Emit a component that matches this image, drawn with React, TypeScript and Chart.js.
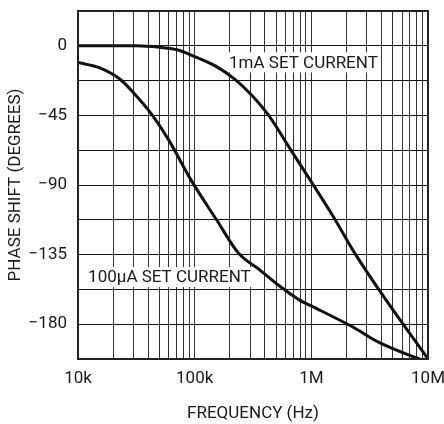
import React, { useEffect, useRef } from "react";
import { Chart, registerables } from "chart.js";

Chart.register(...registerables);

// ---- Data ----
const FREQ_1MA = [10000, 20000, 32000, 50000, 72000, 100000, 150000, 220000, 300000, 428000, 656000, 1000000, 1540000, 2290000, 3740000, 10000000];
const PHASE_1MA = [0, 0, 0, -1, -2.7, -7, -13, -21.5, -31, -44.7, -66.5, -88, -110.4, -132.6, -157, -202.5];

const FREQ_100UA = [10000, 15000, 22800, 30000, 42500, 60000, 93500, 154000, 237000, 363000, 538000, 800000, 1000000, 2290000, 3760000, 7460000, 8500000];
const PHASE_100UA = [-10.8, -14, -21.5, -30.5, -44, -61, -87, -112.5, -134, -145, -155.5, -164.6, -168.2, -182, -191.6, -201, -202.5];

// Grid / tick values
const X_GRID = [
  10000, 20000, 30000, 40000, 50000, 60000, 70000, 80000, 90000,
  100000, 200000, 300000, 400000, 500000, 600000, 700000, 800000, 900000,
  1000000, 2000000, 3000000, 4000000, 5000000, 6000000, 7000000, 8000000, 9000000,
  10000000,
];
const X_TICK_VALUES = [10000, 100000, 1000000, 10000000];
const X_TICK_LABELS = ["10k", "100k", "1M", "10M"];
const Y_GRID = [22.5, 0, -22.5, -45, -67.5, -90, -112.5, -135, -157.5, -180, -202.5];
const Y_TICK_VALUES = [0, -45, -90, -135, -180];
const Y_TICK_LABELS = ["0", "\u221245", "\u221290", "\u2212135", "\u2212180"];
const X_MIN = 10000;
const X_MAX = 10000000;
const Y_MIN = -202.5;
const Y_MAX = 22.5;

const CURVE_LABELS = [
  { text: "1mA SET CURRENT", f: 197000, phase: -10.7 },
  { text: "100\u00B5A SET CURRENT", f: 12200, phase: -149.5 },
];

const X_TITLE = "FREQUENCY (Hz)";
const Y_TITLE = "PHASE SHIFT (DEGREES)";

const FONT = "Roboto, 'Liberation Sans', sans-serif";
const FS = 17;

const labelPlugin = {
  id: "curveLabels",
  beforeDatasetsDraw(chart: any) {
    const { ctx, scales } = chart;
    const x = scales.x, y = scales.y;
    ctx.save();
    ctx.font = `${FS}px ${FONT}`;
    ctx.textBaseline = "middle";
    ctx.textAlign = "left";
    for (const l of CURVE_LABELS) {
      const px = x.getPixelForValue(l.f);
      const py = y.getPixelForValue(l.phase);
      const w = ctx.measureText(l.text).width;
      ctx.fillStyle = "#ffffff";
      ctx.fillRect(px - 4, py - 10, w + 6, 20);
      ctx.fillStyle = "#1a1a1a";
      ctx.fillText(l.text, px, py + 1);
    }
    ctx.restore();
  },
  afterDatasetsDraw(chart: any) {
    const { ctx, chartArea } = chart;
    ctx.save();
    ctx.strokeStyle = "#222";
    ctx.lineWidth = 2;
    ctx.strokeRect(chartArea.left, chartArea.top, chartArea.right - chartArea.left, chartArea.bottom - chartArea.top);
    ctx.restore();
  },
};

export default function App() {
  const ref = useRef<HTMLCanvasElement | null>(null);
  useEffect(() => {
    if (!ref.current) return;
    const chart = new Chart(ref.current, {
      type: "line",
      data: {
        datasets: [
          {
            label: "1mA",
            data: FREQ_1MA.map((f, i) => ({ x: f, y: PHASE_1MA[i] })),
            borderColor: "#111",
            borderWidth: 3,
            pointRadius: 0,
            cubicInterpolationMode: "monotone",
            fill: false,
          },
          {
            label: "100uA",
            data: FREQ_100UA.map((f, i) => ({ x: f, y: PHASE_100UA[i] })),
            borderColor: "#111",
            borderWidth: 3,
            pointRadius: 0,
            cubicInterpolationMode: "monotone",
            fill: false,
          },
        ],
      },
      options: {
        animation: false,
        responsive: true,
        maintainAspectRatio: false,
        layout: { padding: { top: 11, right: 16, left: 0, bottom: 0 } },
        plugins: { legend: { display: false }, tooltip: { enabled: false } },
        scales: {
          x: {
            type: "logarithmic",
            min: X_MIN,
            max: X_MAX,
            afterBuildTicks: (s: any) => {
              s.ticks = X_GRID.map((v) => ({ value: v }));
            },
            afterFit: (s: any) => {
              s.height = 65;
              s.paddingLeft = 0;
              s.paddingRight = 0;
            },
            border: { display: false },
            grid: { color: "rgba(0,0,0,0.8)", lineWidth: 1, drawTicks: false },
            ticks: {
              autoSkip: false,
              maxRotation: 0,
              padding: 10,
              color: "#1a1a1a",
              font: { size: FS, family: FONT },
              callback: (v: any) => {
                const i = X_TICK_VALUES.indexOf(Number(v));
                return i >= 0 ? X_TICK_LABELS[i] : "";
              },
            },
            title: {
              display: true,
              text: X_TITLE,
              color: "#1a1a1a",
              font: { size: FS, family: FONT },
              padding: { top: 11, bottom: 0 },
            },
          },
          y: {
            type: "linear",
            min: Y_MIN,
            max: Y_MAX,
            afterBuildTicks: (s: any) => {
              s.ticks = Y_GRID.map((v) => ({ value: v }));
            },
            afterFit: (s: any) => {
              s.width = 78;
              s.paddingTop = 0;
              s.paddingBottom = 0;
            },
            border: { display: false },
            grid: { color: "#111", lineWidth: 1, drawTicks: false },
            ticks: {
              padding: 11,
              color: "#1a1a1a",
              font: { size: FS, family: FONT },
              callback: (v: any) => {
                const i = Y_TICK_VALUES.indexOf(Number(v));
                return i >= 0 ? Y_TICK_LABELS[i] : "";
              },
            },
            title: {
              display: true,
              text: Y_TITLE,
              color: "#1a1a1a",
              font: { size: FS, family: FONT },
              padding: { top: 6, bottom: 0 },
            },
          },
        },
      },
      plugins: [labelPlugin],
    } as any);
    return () => chart.destroy();
  }, []);
  return (
    <div style={{ position: "absolute", left: 0, top: 0, width: 444, height: 424, background: "#fff" }}>
      <canvas ref={ref} />
    </div>
  );
}
